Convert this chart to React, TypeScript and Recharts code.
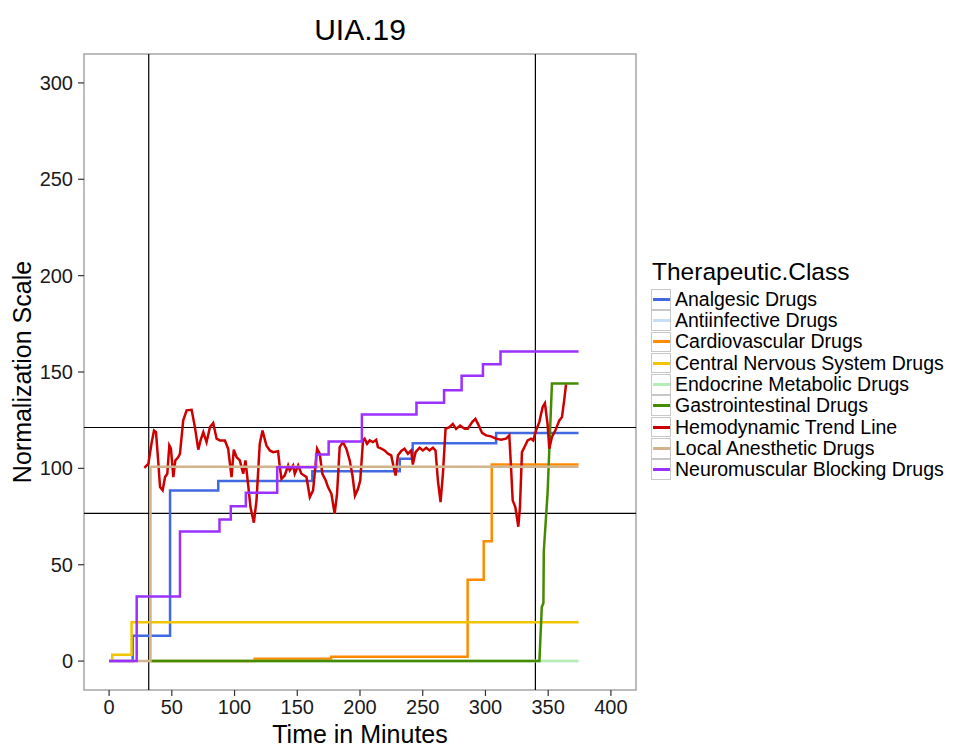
import React from "react";
import { LineChart, Line, XAxis, YAxis, ReferenceLine, ReferenceArea } from "recharts";

const FONT = "'Liberation Sans', Arial, Helvetica, sans-serif";

// x ticks / y ticks
const xTicks = [0, 50, 100, 150, 200, 250, 300, 350, 400];
const yTicks = [0, 50, 100, 150, 200, 250, 300];

// Step series (time in minutes, value)
const analgesicT = [0, 18.8, 48.6, 87, 162, 231.7, 242, 308.5, 374.2];
const analgesicV = [0, 13.2, 88.5, 93.4, 98.5, 105, 113, 118.3, 118.3];

const antiinfectiveT = [33, 374.2];
const antiinfectiveV = [0, 0];

const cardioT = [33, 116, 177, 285.8, 298.6, 305, 374.2];
const cardioV = [0, 1.2, 2.3, 42.2, 62.2, 102, 102];

const cnsT = [0, 2.5, 17.9, 374.2];
const cnsV = [0, 3.3, 20.1, 20.1];

const endocrineT = [33, 374.2];
const endocrineV = [0, 0];

const gastroT = [33.5, 343, 344.9, 346.2, 346.5, 349.5, 353, 374.2];
const gastroV = [0, 0, 28, 30, 57, 87, 144, 144];

const localT = [0, 33, 374.2];
const localV = [0, 100.8, 100.8];

const neuroT = [0, 22, 56.5, 88, 97, 109, 134, 165, 175, 201.5, 245, 267, 281, 298, 312, 374.2];
const neuroV = [0, 33.5, 67.2, 73.5, 80.4, 87.3, 100.6, 107.2, 114, 128, 134, 140.5, 148, 154, 160.6, 160.6];

// Hemodynamic trend line
const hemoT = [
  28.1, 31.3, 34, 35.8, 37.4, 39.3, 40.6, 42.7, 44.6, 46.4, 48, 49.3, 51.2, 52.8, 55.2, 56.5,
  59.1, 61.8, 65.8, 68.4, 71.1, 72.9, 75.1, 77.7, 80.4, 83, 85.7, 88.3, 92.3, 94.9, 97.6, 99.4,
  101.6, 104.2, 106.9, 108.7, 110.9, 112.7, 115.4, 117.5, 120.1, 122.3, 125.4, 128.1, 130.7, 134.7,
  136.1, 137.4, 140, 142.7, 144, 146.7, 148, 150.7, 153.3, 157.3, 160, 162.6, 165.8, 167.9, 170,
  172.7, 174.5, 177.2, 179.8, 181.7, 183.8, 186.4, 189.1, 191.8, 194, 196, 198.4, 200.2, 202.4,
  203.7, 205.6, 207.7, 210.3, 212.9, 214.3, 217, 219.6, 222.3, 224.9, 226.8, 228.4, 230.2, 232.9,
  235.5, 238.2, 240.8, 242.1, 244.3, 247.5, 250.1, 252.8, 255.4, 258.1, 260.2, 262.1, 264.2, 266.1,
  268.2, 271.3, 274, 276.6, 279.8, 283.3, 285.9, 289.4, 292, 294.7, 297.3, 300.5, 304.4, 308.4,
  312.4, 316.4, 319, 320.4, 321.7, 323.8, 326.2, 327.5, 329.1, 331.7, 333.6, 336.3, 338.1, 340.3,
  342.9, 345.6, 347.4, 349.5, 350.9, 353, 355.7, 358.9, 361, 362.9, 364.2,
];
const hemoV = [
  100.3, 102.4, 113.6, 119.6, 118.8, 102.4, 90.3, 88.6, 95.5, 97.2, 111.9, 110.2, 95.5, 104.1, 105.9, 107.6,
  124.9, 130.1, 130.4, 121.4, 109.7, 114.5, 118.8, 113.6, 121.4, 123.5, 115.4, 114.5, 114.5, 110.2, 95.5, 109.7,
  105.9, 104.1, 97.2, 104.1, 91.2, 79.9, 71.8, 83.4, 112.8, 119.6, 111.9, 109.3, 108.4, 108.9,
  100.6, 94.6, 96.3, 101.5, 98.9, 101.5, 97.2, 101.5, 97.2, 95.5, 85.1, 88.6, 110.2, 107.6, 97.2,
  93.7, 90.3, 86.8, 76.4, 86.8, 111, 113.6, 110.2, 104.1, 96.3, 85.9, 89.4, 93.7, 114.5,
  115.4, 112.7, 114.5, 113.6, 114.8, 111, 110.2, 109.3, 107.6, 106.7, 100.7, 96.3, 106.7, 109,
  110.2, 107.6, 109.3, 102, 108.4, 110.7, 109.3, 110.7, 109.3, 110.7, 109.3, 93.7, 82.5, 97.2,
  120.5, 121.4, 123.1, 120.5, 122.2, 120.5, 120.5, 124, 125.7, 122.2, 118.4, 117.1, 116.6, 115.4,
  114.8, 115.4, 117.1, 100.6, 83.4, 79.9, 69.7, 79.9, 108.4, 111.9, 114.5, 115.4, 114.5, 119.6,
  124, 131.8, 133.8, 123.1, 110.2, 116.3, 119.6, 124.9, 126.6, 136.1, 143.5,
];

// Reference lines
const hLines = [121.2, 76.6];
const vLines = [31.6, 339.8];

const classNames = [
  "Analgesic Drugs",
  "Antiinfective Drugs",
  "Cardiovascular Drugs",
  "Central Nervous System Drugs",
  "Endocrine Metabolic Drugs",
  "Gastrointestinal Drugs",
  "Hemodynamic Trend Line",
  "Local Anesthetic Drugs",
  "Neuromuscular Blocking Drugs",
];
const classColors = [
  "#4169E1",
  "#C6DFF7",
  "#FF8C00",
  "#F2C500",
  "#B4EEB4",
  "#458B00",
  "#CD0000",
  "#D2B48C",
  "#9B30FF",
];

const pts = (t: number[], v: number[]) => t.map((x, i) => ({ x, y: v[i] }));

const series = [
  { data: pts(analgesicT, analgesicV), type: "stepAfter" },
  { data: pts(antiinfectiveT, antiinfectiveV), type: "stepAfter" },
  { data: pts(cardioT, cardioV), type: "stepAfter" },
  { data: pts(cnsT, cnsV), type: "stepAfter" },
  { data: pts(endocrineT, endocrineV), type: "stepAfter" },
  { data: pts(gastroT, gastroV), type: "linear" },
  { data: pts(hemoT, hemoV), type: "linear" },
  { data: pts(localT, localV), type: "stepAfter" },
  { data: pts(neuroT, neuroV), type: "stepAfter" },
];

export default function App() {
  const W = 937;
  const H = 740;
  return (
    <div style={{ position: "relative", width: W, height: H, fontFamily: FONT }}>
      <LineChart
        width={W}
        height={H}
        margin={{ top: 46, right: 309, left: 16, bottom: 3 }}
      >
        <ReferenceArea
          x1={-20}
          x2={420}
          y1={-15}
          y2={315}
          fill="none"
          stroke="#a6a6a6"
          strokeWidth={1.5}
          fillOpacity={0}
        />
        <XAxis
          type="number"
          dataKey="x"
          domain={[-20, 420]}
          ticks={xTicks}
          allowDataOverflow
          axisLine={false}
          tickSize={6}
          tickMargin={4}
          tickLine={{ stroke: "#333", strokeWidth: 1.2 }}
          tick={{ fill: "#1a1a1a", fontSize: 20, fontFamily: FONT }}
          height={55}
          label={{
            value: "Time in Minutes",
            position: "insideBottom",
            offset: 2,
            style: { fontSize: 25, fill: "#000", fontFamily: FONT },
          }}
        />
        <YAxis
          type="number"
          domain={[-15, 315]}
          ticks={yTicks}
          allowDataOverflow
          axisLine={false}
          tickSize={6}
          tickMargin={5}
          tickLine={{ stroke: "#333", strokeWidth: 1.2 }}
          tick={{ fill: "#1a1a1a", fontSize: 20, fontFamily: FONT }}
          width={60}
          label={{
            value: "Normalization Scale",
            angle: -90,
            position: "insideLeft",
            offset: -2,
            style: { fontSize: 25, fill: "#000", fontFamily: FONT, textAnchor: "middle" },
          }}
        />
        {hLines.map((y) => (
          <ReferenceLine key={"h" + y} y={y} stroke="#000" strokeWidth={1.2} />
        ))}
        {vLines.map((x) => (
          <ReferenceLine key={"v" + x} x={x} stroke="#000" strokeWidth={1.2} />
        ))}
        {series.map((s, i) => (
          <Line
            key={classNames[i]}
            data={s.data}
            dataKey="y"
            type={s.type as any}
            stroke={classColors[i]}
            strokeWidth={2.5}
            dot={false}
            activeDot={false}
            isAnimationActive={false}
            name={classNames[i]}
          />
        ))}
      </LineChart>

      <div
        style={{
          position: "absolute",
          left: 152,
          width: 400,
          top: 4,
          textAlign: "center",
          fontSize: 30,
          lineHeight: "35px",
          color: "#000",
        }}
      >
        UIA.19
      </div>

      <div
        style={{
          position: "absolute",
          left: 644,
          top: 249,
          fontSize: 24.5,
          lineHeight: "29px",
          color: "#000",
          whiteSpace: "nowrap",
        }}
      >
        Therapeutic.Class
      </div>
      {classNames.map((n, i) => (
        <div
          key={n}
          style={{
            position: "absolute",
            left: 643,
            top: 280.6 + i * 21.3,
            height: 21.3,
            display: "flex",
            alignItems: "center",
            whiteSpace: "nowrap",
          }}
        >
          <div
            style={{
              width: 18,
              height: 18.6,
              border: "1.3px solid #c8c8c8",
              background: "#fff",
              display: "flex",
              alignItems: "center",
              justifyContent: "center",
              boxSizing: "content-box",
            }}
          >
            <div style={{ width: 17, height: 3, background: classColors[i] }} />
          </div>
          <span style={{ marginLeft: 4, fontSize: 19.5, lineHeight: "21px", color: "#000" }}>{n}</span>
        </div>
      ))}
    </div>
  );
}
